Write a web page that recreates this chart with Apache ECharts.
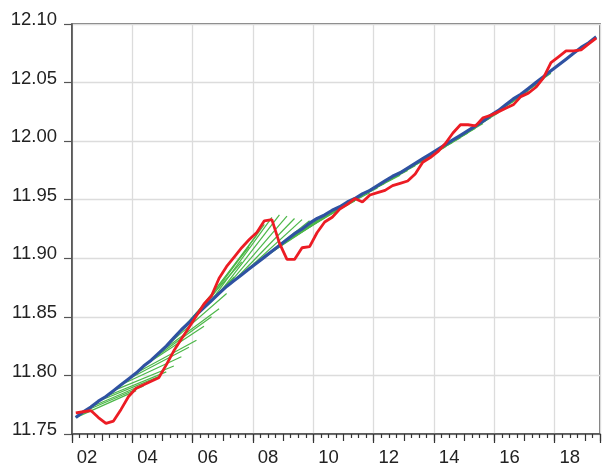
<!DOCTYPE html>
<html>
<head>
<meta charset="utf-8">
<title>trend</title>
<script src="https://cdn.jsdelivr.net/npm/echarts@6/dist/echarts.min.js"></script>
<style>
  html, body { margin: 0; padding: 0; background: #fff; }
  #chart { width: 603px; height: 467px; }
</style>
</head>
<body>
<div id="chart"></div>
<script>
    // quarterly data, first quarter = 2002Q1
    var startYear = 2002;
    var yearLabels = ['02', '04', '06', '08', '10', '12', '14', '16', '18'];
    var yTicks = [11.75, 11.80, 11.85, 11.90, 11.95, 12.00, 12.05, 12.10];

    // red: actual series
    var actual = [
        11.768, 11.769, 11.770, 11.764, 11.759, 11.761, 11.771, 11.782,
        11.789, 11.792, 11.795, 11.798, 11.809, 11.821, 11.831, 11.841,
        11.851, 11.861, 11.868, 11.883, 11.893, 11.901, 11.909, 11.916,
        11.922, 11.932, 11.933, 11.913, 11.899, 11.899, 11.909, 11.910,
        11.922, 11.931, 11.935, 11.942, 11.946, 11.951, 11.948, 11.954,
        11.956, 11.958, 11.962, 11.964, 11.966, 11.972, 11.982, 11.986,
        11.991, 11.998, 12.007, 12.014, 12.014, 12.013, 12.020, 12.022,
        12.025, 12.028, 12.031, 12.038, 12.041, 12.046, 12.054, 12.067,
        12.072, 12.077, 12.077, 12.078, 12.083, 12.088
    ];

    // blue: smooth trend
    var trend = [
        11.764, 11.769, 11.773, 11.778, 11.782, 11.787, 11.792, 11.797,
        11.802, 11.808, 11.813, 11.819, 11.825, 11.832, 11.839, 11.845,
        11.852, 11.858, 11.864, 11.870, 11.876, 11.881, 11.886, 11.891,
        11.896, 11.901, 11.906, 11.911, 11.916, 11.921, 11.925, 11.930,
        11.934, 11.937, 11.941, 11.944, 11.948, 11.951, 11.955, 11.958,
        11.962, 11.966, 11.970, 11.973, 11.977, 11.981, 11.985, 11.989,
        11.993, 11.997, 12.001, 12.005, 12.009, 12.013, 12.017, 12.022,
        12.026, 12.031, 12.036, 12.040, 12.045, 12.050, 12.055, 12.060,
        12.065, 12.070, 12.075, 12.080, 12.084, 12.089
    ];

    // green: straight paths from quarter fanFrom[k] to quarter fanFrom[k] + fanLength
    var fanLength = 8;
    var fanFrom = [
        0, 1, 2, 3, 4, 5, 6, 7, 8, 9, 10, 11, 12, 13, 14, 15, 16, 17, 18, 19,
        20, 21, 22, 23, 24, 25, 26, 27, 28, 29, 30, 31, 32, 33, 34, 35, 36, 37,
        38, 39, 40, 41, 42, 43, 44, 45, 46, 47, 48, 49, 50, 51, 52, 53, 54, 55
    ];
    var fanFromValue = [
        11.764, 11.769, 11.773, 11.778, 11.782, 11.787, 11.792, 11.797,
        11.802, 11.808, 11.813, 11.819, 11.825, 11.832, 11.839, 11.845,
        11.852, 11.858, 11.864, 11.870, 11.876, 11.881, 11.886, 11.891,
        11.896, 11.901, 11.906, 11.911, 11.916, 11.921, 11.925, 11.930,
        11.934, 11.937, 11.941, 11.944, 11.948, 11.951, 11.955, 11.958,
        11.962, 11.966, 11.970, 11.973, 11.977, 11.981, 11.985, 11.989,
        11.993, 11.997, 12.001, 12.005, 12.009, 12.013, 12.017, 12.022
    ];
    var fanToValue = [
        11.787, 11.791, 11.795, 11.799, 11.803, 11.808, 11.816, 11.824,
        11.830, 11.842, 11.850, 11.857, 11.870, 11.884, 11.897, 11.910,
        11.920, 11.929, 11.935, 11.937, 11.936, 11.934, 11.933, 11.932,
        11.933, 11.935, 11.939, 11.942, 11.946, 11.949, 11.953, 11.956,
        11.960, 11.964, 11.968, 11.971, 11.975, 11.979, 11.983, 11.987,
        11.991, 11.995, 11.999, 12.003, 12.007, 12.011, 12.015, 12.020,
        12.024, 12.029, 12.034, 12.038, 12.043, 12.048, 12.053, 12.058
    ];

    function qx(i) { return startYear + (i + 0.5) / 4; }

    var redData = actual.map(function (v, i) { return [qx(i), v]; });
    var blueData = trend.map(function (v, i) { return [qx(i), v]; });
    var fanData = fanFrom.map(function (s, k) {
        return { coords: [[qx(s), fanFromValue[k]], [qx(s + fanLength), fanToValue[k]]] };
    });

    // label axis: half-year points, label under the middle of each even year
    var labelCats = [];
    for (var h = 0; h < 36; h++) {
        labelCats.push(h % 4 === 1 ? yearLabels[(h - 1) / 4] : '');
    }

    var font = 'Liberation Sans, Arial, sans-serif';
    var chart = echarts.init(document.getElementById('chart'));
    var option = {
        animation: false,
        backgroundColor: '#fff',
        grid: {
            left: 72, top: 24, width: 533, height: 412,
            show: true, borderColor: '#4a4a4a', borderWidth: 1.5
        },
        xAxis: [
            {
                type: 'value', position: 'bottom', min: 2002, max: 2019.5, interval: 2,
                axisLine: { show: true, onZero: false, lineStyle: { color: '#4a4a4a', width: 1.5 } },
                axisTick: { show: true, length: 9, lineStyle: { color: '#333', width: 1.2 } },
                axisLabel: { show: false },
                splitLine: { show: true, lineStyle: { color: '#dcdcdc', width: 1.3 } }
            },
            {
                type: 'value', position: 'bottom', min: 2002, max: 2019.5, interval: 1,
                axisLine: { show: false, onZero: false },
                axisTick: { show: true, length: 7, lineStyle: { color: '#333', width: 1.2 } },
                minorTick: { show: true, splitNumber: 4, length: 4, lineStyle: { color: '#333', width: 1.2 } },
                axisLabel: { show: false },
                splitLine: { show: false }
            },
            {
                type: 'category', position: 'bottom', data: labelCats, boundaryGap: false,
                axisLine: { show: false, onZero: false },
                axisTick: { show: false },
                axisLabel: {
                    interval: 0, margin: 14, fontSize: 18.5,
                    fontFamily: font, color: '#222'
                },
                splitLine: { show: false }
            }
        ],
        yAxis: {
            type: 'value', min: yTicks[0], max: yTicks[yTicks.length - 1], interval: 0.05,
            axisLine: { show: true, lineStyle: { color: '#4a4a4a', width: 1.5 } },
            axisTick: { show: true, length: 8, lineStyle: { color: '#555', width: 1.2 } },
            axisLabel: {
                margin: 15, fontSize: 18.5, fontFamily: font, color: '#222',
                verticalAlign: 'bottom', lineHeight: 8,
                formatter: function (v) { return v.toFixed(2); }
            },
            splitLine: { show: true, lineStyle: { color: '#dcdcdc', width: 1.3 } }
        },
        series: [
            {
                name: 'paths', type: 'lines', coordinateSystem: 'cartesian2d',
                xAxisIndex: 0, yAxisIndex: 0, z: 2,
                lineStyle: { color: '#4cb748', width: 1.2, opacity: 1 },
                data: fanData
            },
            {
                name: 'trend', type: 'line', xAxisIndex: 0, z: 3,
                showSymbol: false, symbol: 'none',
                lineStyle: { color: '#2f52a2', width: 3.2 },
                data: blueData
            },
            {
                name: 'actual', type: 'line', xAxisIndex: 0, z: 4,
                showSymbol: false, symbol: 'none',
                lineStyle: { color: '#ec1c24', width: 2.8 },
                data: redData
            }
        ]
    };
    chart.setOption(option);
</script>
</body>
</html>
